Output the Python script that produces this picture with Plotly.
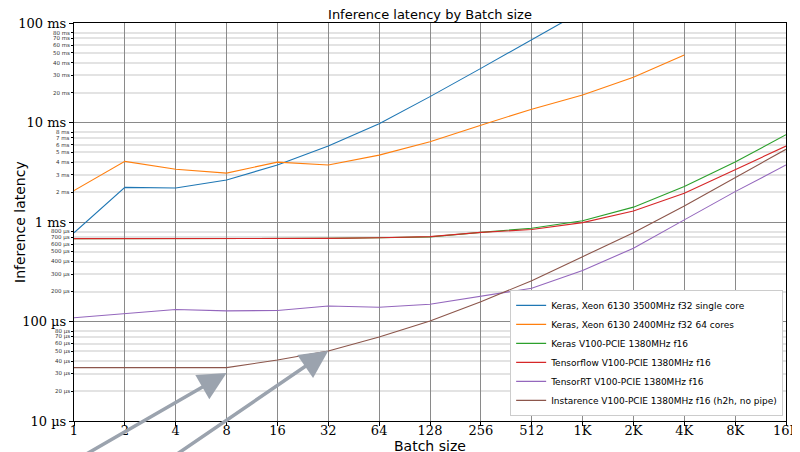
import math
import plotly.graph_objects as go

# ---------------- data ----------------
batch = [1, 2, 4, 8, 16, 32, 64, 128, 256, 512, 1024, 2048, 4096, 8192, 16384]
batch_labels = ["1", "2", "4", "8", "16", "32", "64", "128", "256", "512",
                "1K", "2K", "4K", "8K", "16K"]

# latency in milliseconds
keras_xeon_single_ms = [0.78, 2.23, 2.20, 2.64, 3.74, 5.8, 9.7, 18.2, 35.0, 67.5, 132.0]
keras_xeon_64_ms = [2.07, 4.07, 3.39, 3.10, 4.0, 3.74, 4.7, 6.4, 9.4, 13.6, 18.9, 28.5, 47.8]
keras_v100_ms = [0.680, 0.680, 0.680, 0.681, 0.682, 0.684, 0.695, 0.708, 0.787, 0.865,
                 1.03, 1.41, 2.27, 4.0, 7.55]
tf_v100_ms = [0.680, 0.680, 0.680, 0.682, 0.683, 0.685, 0.695, 0.713, 0.787, 0.840,
              0.985, 1.29, 1.94, 3.33, 5.8]
# latency in microseconds
trt_v100_us = [109, 119, 132, 128, 129, 143, 139, 149, 178, 216, 325, 545, 1050, 2020, 3740]
instarence_us = [34.4, 34.4, 34.4, 34.4, 41, 50.6, 70, 101, 158, 257, 448, 780, 1450, 2810, 5380]

series_names = [
    "Keras, Xeon 6130 3500MHz f32 single core",
    "Keras, Xeon 6130 2400MHz f32 64 cores",
    "Keras V100-PCIE 1380MHz f16",
    "Tensorflow V100-PCIE 1380MHz f16",
    "TensorRT V100-PCIE 1380MHz f16",
    "Instarence V100-PCIE 1380MHz f16 (h2h, no pipe)",
]
series_values_s = [
    [v * 1e-3 for v in keras_xeon_single_ms],
    [v * 1e-3 for v in keras_xeon_64_ms],
    [v * 1e-3 for v in keras_v100_ms],
    [v * 1e-3 for v in tf_v100_ms],
    [v * 1e-6 for v in trt_v100_us],
    [v * 1e-6 for v in instarence_us],
]
colors = ["#1f77b4", "#ff7f0e", "#2ca02c", "#d62728", "#9467bd", "#8c564b"]

major_vals = [1e-1, 1e-2, 1e-3, 1e-4, 1e-5]
major_text = ["100 ms", "10 ms", "1 ms", "100 µs", "10 µs"]
minor_vals = []
minor_text = []
for dec, unit, scale in [(1e-2, "ms", 10), (1e-3, "ms", 1), (1e-4, "µs", 100), (1e-5, "µs", 10)]:
    for m in range(2, 9):
        minor_vals.append(m * dec)
        minor_text.append(f"{m * scale} {unit}")

# arrows: head (batch, latency) and tail (batch, latency), tails lie below the axis
arrow_heads = [(8, 30.3e-6), (32, 50.9e-6)]
arrow_tails = [(0.856, 3.39e-6), (2.83, 3.05e-6)]

# ---------------- figure ----------------
# The page body has an 8px margin, so the figure is 792x444 to fill the 800x452 window.
W, H = 792, 444
ML, MR, MT, MB = 66, 14, 15, 31
plot_w = W - ML - MR
plot_h = H - MT - MB

fig = go.Figure()
for name, vals, c in zip(series_names, series_values_s, colors):
    fig.add_trace(go.Scatter(
        x=batch[:len(vals)], y=vals, mode="lines", name=name,
        line=dict(color=c, width=1.1),
    ))

annotations = []
for v, t in zip(minor_vals, minor_text):
    annotations.append(dict(
        x=0, xref="paper", y=math.log10(v), yref="y", text=t, showarrow=False,
        xanchor="right", yanchor="middle", xshift=-3, borderpad=0,
        font=dict(family="DejaVu Sans", size=5.5, color="#333333"),
    ))
for (hx, hy), (tx, ty) in zip(arrow_heads, arrow_tails):
    annotations.append(dict(
        x=math.log10(hx), y=math.log10(hy), xref="x", yref="y", text="",
        showarrow=True, ax=math.log10(tx), ay=math.log10(ty), axref="x", ayref="y",
        arrowhead=2, arrowsize=1.6, arrowwidth=3.5, arrowcolor="#9ba3ae",
    ))
# axis titles
annotations.append(dict(
    x=0.5, xref="paper", y=-25 / plot_h, yref="paper", text="Batch size",
    showarrow=False, xanchor="center", yanchor="middle", borderpad=0,
    font=dict(family="DejaVu Sans", size=14, color="black"),
))
annotations.append(dict(
    x=-54 / plot_w, xref="paper", y=0.5, yref="paper", text="Inference latency",
    showarrow=False, xanchor="center", yanchor="middle", textangle=-90,
    font=dict(family="DejaVu Sans", size=14, color="black"),
))

fig.update_layout(
    width=W, height=H,
    margin=dict(l=ML, r=MR, t=MT, b=MB, autoexpand=False),
    paper_bgcolor="white", plot_bgcolor="white",
    title=dict(text="Inference latency by Batch size", x=0.5, xref="paper",
               y=1 - 6 / H, yref="container", xanchor="center", yanchor="middle",
               font=dict(family="DejaVu Sans", size=13, color="black")),
    showlegend=True,
    legend=dict(x=0.996, y=0.013, xanchor="right", yanchor="bottom",
                bgcolor="white", bordercolor="#cccccc", borderwidth=1,
                font=dict(family="DejaVu Sans", size=9, color="black")),
    annotations=annotations,
)

fig.update_xaxes(
    type="log", range=[0, math.log10(16384)], automargin=False,
    tickvals=batch, ticktext=batch_labels,
    tickfont=dict(family="DejaVu Serif", size=13, color="black"),
    ticks="outside", ticklen=4, tickcolor="black", ticklabelstandoff=-7,
    showgrid=True, gridcolor="#8a8a8a", gridwidth=1.3,
    showline=True, linecolor="black", linewidth=1.3, mirror=True,
    zeroline=False,
)
fig.update_yaxes(
    type="log", range=[-5, -1], automargin=False,
    tickvals=major_vals, ticktext=major_text,
    tickfont=dict(family="DejaVu Serif", size=13, color="black"),
    ticks="outside", ticklen=4, tickcolor="black",
    showgrid=True, gridcolor="#8a8a8a", gridwidth=1.3,
    minor=dict(tickvals=minor_vals, showgrid=True, gridcolor="#e3e3e3", gridwidth=1.8,
               ticks="outside", ticklen=2, tickcolor="black"),
    showline=True, linecolor="black", linewidth=1.3, mirror=True,
    zeroline=False,
)

fig.write_html("out.html")
